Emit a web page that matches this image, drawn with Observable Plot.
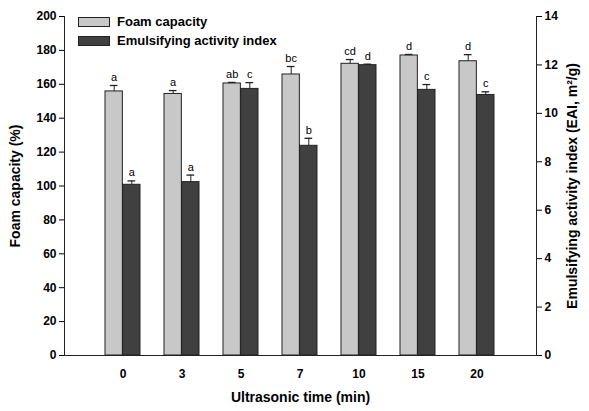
<!DOCTYPE html>
<html><head><meta charset="utf-8">
<script src="https://cdn.jsdelivr.net/npm/d3@7"></script>
<script src="https://cdn.jsdelivr.net/npm/@observablehq/plot@0.6"></script>
<style>
body{margin:0;background:#fff;font-family:"Liberation Sans",Arial,sans-serif;}
#wrap{position:relative;width:589px;height:411px;}
.leg{position:absolute;display:flex;align-items:center;font-weight:bold;font-size:13px;color:#000;}
.sw{width:30px;height:8px;border:1px solid #222;margin-right:7px;}
</style></head><body>
<div id="wrap"></div>
<script>
const times = ["0","3","5","7","10","15","20"];
const foam = [155.8, 154.3, 160.5, 165.8, 172.1, 177.0, 173.6];
const foamErr = [3.5, 2.0, 0.6, 4.7, 2.5, 0.6, 3.9];
const foamLetters = ["a","a","ab","bc","cd","d","d"];
const eai = [7.05, 7.16, 11.01, 8.66, 11.99, 10.97, 10.76];
const eaiErr = [0.16, 0.29, 0.26, 0.31, 0.04, 0.22, 0.13];
const eaiLetters = ["a","a","c","b","d","c","c"];
const eaiTicks = [0,2,4,6,8,10,12,14];

const k = 200/14;
const fd = times.map((t,i)=>({t, v:foam[i], e:foamErr[i], l:foamLetters[i]}));
const ed = times.map((t,i)=>({t, v:eai[i]*k, e:eaiErr[i]*k, l:eaiLetters[i]}));

const bw = 35.3, half = bw/2, q = bw/4, cap = 4;
const font = "Liberation Sans, Arial, sans-serif";

const chart = Plot.plot({
  width: 589, height: 411,
  marginLeft: 64, marginRight: 53, marginTop: 16, marginBottom: 56,
  style: {fontFamily: font, fontSize: "12px", color: "#000", background: "#fff"},
  x: {domain: times, paddingInner: 0.402, paddingOuter: 0.701, label: null},
  y: {domain: [0,200], label: null},
  marks: [
    Plot.barY(fd, {x:"t", y:"v", insetRight: half, fill:"#c8c8c8", stroke:"#222", strokeWidth:1}),
    Plot.barY(ed, {x:"t", y:"v", insetLeft: half, fill:"#404040", stroke:"#222", strokeWidth:1}),
    Plot.ruleX(fd, {x:"t", y1:"v", y2:d=>d.v+d.e, dx:-q, stroke:"#222"}),
    Plot.ruleX(ed, {x:"t", y1:"v", y2:d=>d.v+d.e, dx:q, stroke:"#222"}),
    Plot.tickY(fd, {x:"t", y:d=>d.v+d.e, insetLeft: q-cap, insetRight: bw-q-cap, stroke:"#222", strokeWidth:1.3}),
    Plot.tickY(ed, {x:"t", y:d=>d.v+d.e, insetLeft: bw-q-cap, insetRight: q-cap, stroke:"#222", strokeWidth:1.3}),
    Plot.text(fd, {x:"t", y:d=>d.v+d.e, text:"l", dx:-q, dy:-8, fontSize:11, fill:"#000"}),
    Plot.text(ed, {x:"t", y:d=>d.v+d.e, text:"l", dx:q, dy:-8, fontSize:11, fill:"#000"}),
    Plot.ruleY([0], {stroke:"#222"}),
    Plot.frame({anchor:"left", stroke:"#222"}),
    Plot.frame({anchor:"right", stroke:"#222"}),
    Plot.axisY(d3.range(0,201,20), {anchor:"left", tickSize:5, tickPadding:3, fontWeight:"bold", fontSize:12,
      label:"Foam capacity (%)", labelAnchor:"center", labelArrow:"none", labelOffset:54}),
    Plot.axisY(eaiTicks.map(v=>v*k), {anchor:"right", tickSize:5, tickPadding:3, fontWeight:"bold", fontSize:12,
      tickFormat:d=>String(Math.round(d/k)),
      label:"Emulsifying activity index (EAI, m²/g)", labelAnchor:"center", labelArrow:"none", labelOffset:40}),
    Plot.axisX({tickSize:0, tickPadding:14, fontWeight:"bold", fontSize:12,
      label:"Ultrasonic time (min)", labelAnchor:"center", labelArrow:"none", labelOffset:46})
  ]
});
chart.querySelectorAll("g[aria-label='y-axis label'] text, g[aria-label='x-axis label'] text").forEach(t=>{t.style.fontSize="14px";t.style.fontWeight="bold";});
const wrap = document.getElementById("wrap");
wrap.appendChild(chart);
const legend = [["Foam capacity","#c8c8c8",14],["Emulsifying activity index","#404040",33]];
for (const [name,col,top] of legend){
  const d=document.createElement("div"); d.className="leg"; d.style.left="78px"; d.style.top=top+"px";
  const s=document.createElement("span"); s.className="sw"; s.style.background=col;
  d.appendChild(s); d.appendChild(document.createTextNode(name)); wrap.appendChild(d);
}
</script></body></html>
